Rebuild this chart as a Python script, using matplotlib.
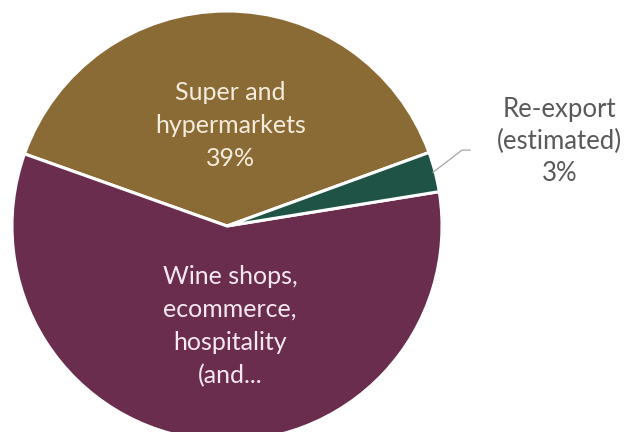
import matplotlib.pyplot as plt
import numpy as np

# channel shares (%)
channels = ["Super and\nhypermarkets", "Wine shops,\necommerce,\nhospitality\n(and...", "Re-export\n(estimated)"]
shares = [39, 58, 3]
colors = ["#8b6b35", "#6b2d4e", "#1f5346"]
text_colors = ["#f4ecdc", "#f6e8f0", "#595959"]

plt.rcParams['font.family'] = ['Lato', 'DejaVu Sans']

fig = plt.figure(figsize=(6.3, 4.32), dpi=100)
ax = fig.add_axes([0, 0, 1, 1])

wedges, _ = ax.pie(shares, colors=colors, startangle=20, counterclock=True,
                   radius=1.0, center=(0, 0),
                   wedgeprops=dict(edgecolor="white", linewidth=2.2))

ax.set_aspect('auto')
ax.set_xlim(-1.0558, 1.8744)
ax.set_ylim(-0.9581, 1.0512)
ax.axis('off')

# inside labels
ax.text(0.015, 0.468, channels[0] + "\n" + f"{shares[0]}%", ha='center', va='center',
        color=text_colors[0], fontsize=18, linespacing=1.52)
ax.text(0.015, -0.465, channels[1], ha='center', va='center',
        color=text_colors[1], fontsize=18, linespacing=1.52)

# outside label with leader line
w = wedges[2]
mid = np.deg2rad((w.theta1 + w.theta2) / 2)
x0, y0 = 0.99 * np.cos(mid), 0.99 * np.sin(mid)
ax.plot([x0, 1.093, 1.13], [y0, 0.353, 0.353], color="#a6a6a6", lw=0.9)
ax.text(1.547, 0.393, channels[2] + "\n" + f"{shares[2]}%", ha='center', va='center',
        color=text_colors[2], fontsize=18.5, linespacing=1.36)

fig.savefig("out.png", dpi=100)
